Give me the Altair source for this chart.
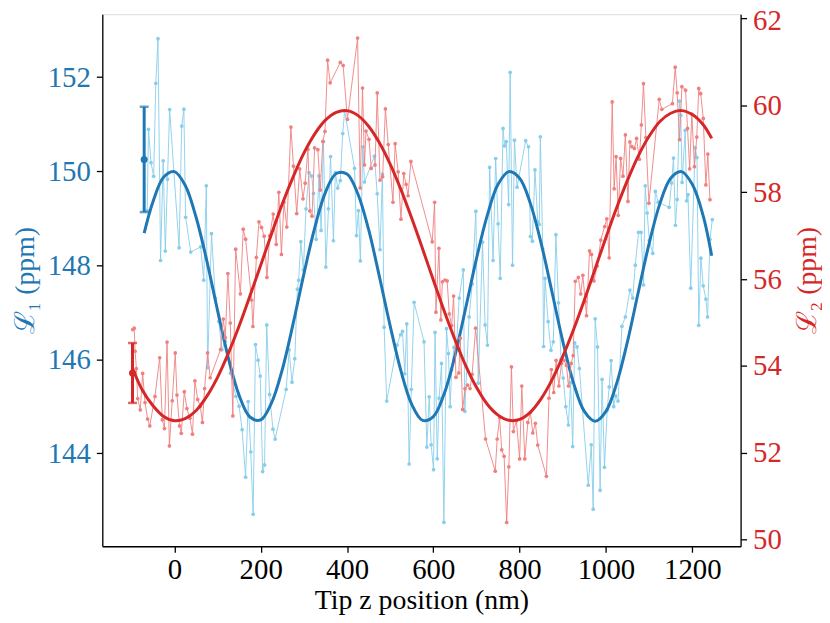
import altair as alt
import pandas as pd

blue_x = [-63, -60, -54, -48, -43, -38, -32, -26, -21, -16, -11, 11, 17, 22, 26, 38, 61, 68, 74, 77,
          86, 95, 103, 110, 118, 130, 142.5, 150, 157, 165, 171, 177, 182.5, 188, 194, 199, 204.5, 209, 214, 220.5,
          228.5, 233.5, 259, 266, 272.5, 279, 285, 288, 293, 299, 305, 312, 318, 322.5, 328.5, 335, 340, 345.5, 351, 357,
          362, 368.5, 373, 378.5, 384.5, 390, 394.5, 417.5, 422, 426.5, 431, 436.5, 440.5, 463.5, 470, 476.5, 482, 486, 492, 516,
          524, 528.5, 534, 538.5, 544, 549, 555.5, 578.5, 585, 590.5, 595, 600.5, 604, 609, 613.5, 619, 624.5, 630.5,
          635, 639, 642.5, 648, 654, 660, 669.5, 673, 683, 690, 698.5, 704, 714, 720, 725.5, 730.5, 738.5, 744.5,
          750, 755, 761.5, 765, 769, 774.5, 778, 783.5, 788, 794, 814, 820.5, 825, 829.5, 835.5, 842, 845.5, 848,
          853.5, 855.5, 858.7, 866, 872.5, 878, 884, 890, 896, 901, 907, 913, 918, 923, 927.5, 933, 938.5, 959,
          966, 970.5, 975, 980.5, 986.5, 991, 996.5, 1003, 1007.5, 1012, 1018, 1022.5, 1028, 1037, 1045, 1055.5, 1062, 1068,
          1075.5, 1081.5, 1087, 1091, 1095.5, 1100.5, 1108.5, 1114.5, 1121, 1146.5, 1152, 1156.5, 1161, 1165, 1170.5, 1173.5,
          1176.5, 1183.5, 1187, 1190, 1196.5, 1206.5, 1211, 1215, 1220, 1225.5, 1231.5, 1235.5, 1241, 1246.5]
blue_y = [149.16, 150.89, 150.18, 149.89, 151.87, 152.82, 148.10, 150.22, 148.30, 149.83, 151.31, 148.37, 150.96, 151.32, 149.02, 148.28, 148.39, 147.68, 149.69, 145.82,
          148.67, 147.30, 146.80, 146.20, 146.38, 145.70, 145.21, 145.00, 144.50, 143.49, 145.10, 144.03, 142.70, 146.31, 145.98, 145.64, 143.61, 143.75, 146.73, 145.25,
          144.51, 144.30, 145.36, 146.20, 145.51, 146.01, 147.49, 147.68, 148.50, 147.90, 149.20, 149.97, 149.90, 149.53, 148.55, 149.90, 148.74, 150.63, 147.96, 149.20,
          150.31, 148.52, 149.97, 149.64, 149.80, 150.80, 151.28, 150.06, 148.63, 149.16, 148.09, 150.52, 149.77, 150.32, 149.52, 148.33, 149.94, 146.68, 145.11, 146.30,
          146.52, 146.59, 145.69, 146.75, 143.77, 145.36, 147.21, 146.37, 144.13, 145.20, 144.18, 143.65, 146.57, 143.88, 145.17, 145.91, 142.53, 146.65,
          146.12, 144.99, 145.77, 146.25, 146.37, 147.30, 147.90, 144.89, 146.90, 147.60, 149.15, 145.49, 148.49, 146.73, 146.30, 150.08, 148.10, 150.27,
          148.88, 147.72, 150.91, 150.54, 150.63, 149.29, 152.10, 148.00, 150.66, 149.66, 150.65, 150.52, 148.61, 148.51, 150.03, 148.92, 148.87, 150.73,
          148.35, 146.27, 147.72, 146.80, 146.19, 146.37, 148.65, 147.20, 146.00, 145.60, 144.99, 144.60, 145.50, 144.14, 146.35, 146.26, 145.80, 143.32,
          144.18, 142.81, 146.86, 146.26, 143.21, 145.57, 143.70, 144.92, 145.41, 145.97, 144.99, 145.22, 145.11, 146.70, 146.90, 147.47, 147.30, 148.00,
          148.70, 148.70, 147.58, 149.69, 149.11, 148.53, 148.25, 149.57, 149.34, 149.23, 149.75, 150.28, 148.85, 149.40, 151.49, 151.19,
          149.76, 150.87, 149.37, 149.50, 147.51, 150.50, 150.29, 146.72, 148.15, 147.56, 147.28, 146.90, 148.55, 148.97]

red_x = [-96.5, -93, -91, -88, -85, -79, -73.5, -68, -62, -57, -45, -34, -28, -23, -17, -11.5, -5, 2, 6, 12,
         16, 23, 29, 36, 42, 47.5, 54, 60, 65, 70, 77, 83, 107, 113.5, 118, 124, 129.5, 135.5, 142, 153,
         159.5, 165, 179, 182, 190, 196, 202, 208, 214.5, 221, 229, 236, 242, 248, 254, 260.5, 270, 276, 283.5, 290.5,
         298, 303, 309.5, 314, 319, 325, 332.5, 338, 344, 349, 355, 361, 384.5, 391, 401, 424.5, 430.5, 436, 440.5, 444,
         451, 456, 465, 470, 476.5, 482.5, 489, 495.5, 506.5, 511.5, 518.5, 525, 531.5, 537, 541.5, 548, 597.5, 603, 606, 613,
         617.5, 621, 627, 632, 637, 642.5, 647, 652.5, 659, 662.5, 668, 673.5, 679.5, 685, 690, 698, 721, 743.5, 748, 753.5,
         758.5, 764, 770, 775, 781, 785.5, 792.5, 800, 805, 812, 819, 825, 830.5, 836.5, 842, 862, 868, 873.5, 879, 884.5,
         891, 897, 903, 908.5, 913, 919.5, 924, 929, 936, 941.5, 946.5, 952, 955, 962, 966.5, 972, 980, 988, 997, 1002,
         1007.5, 1014.5, 1019, 1023.5, 1028.5, 1034, 1039.5, 1045, 1051, 1055.5, 1060, 1066, 1071, 1077.5, 1082, 1087, 1092.5, 1099.5, 1123.5, 1129.5,
         1154, 1160.5, 1165, 1170.5, 1176, 1184.5, 1189, 1194, 1199, 1205, 1210.5, 1215, 1219.5, 1225.5, 1231.5, 1236, 1241]
red_y = [54.84, 54.87, 54.34, 53.94, 53.25, 52.99, 53.83, 53.16, 52.78, 52.62, 53.30, 54.19, 52.76, 52.56, 54.55, 52.16, 53.20, 54.30, 53.33, 52.62,
         52.45, 53.41, 53.02, 52.80, 52.43, 53.66, 53.23, 53.07, 52.70, 53.48, 54.30, 53.73, 54.38, 55.08, 54.65, 56.13, 54.99, 52.85, 56.69, 55.66,
         57.15, 56.92, 55.52, 54.91, 56.50, 57.32, 57.19, 56.99, 56.04, 57.00, 57.50, 56.80, 58.00, 56.57, 57.77, 57.20, 59.50, 58.60, 57.51, 58.54,
         57.85, 58.21, 58.99, 57.57, 57.45, 59.02, 58.98, 58.05, 59.17, 59.40, 61.04, 60.52, 60.99, 60.92, 59.68, 61.55, 58.10, 60.40, 58.63, 59.41,
         59.22, 58.55, 58.63, 60.29, 58.28, 58.36, 59.92, 59.10, 57.77, 59.12, 58.47, 57.38, 58.43, 58.18, 57.92, 58.71, 56.86, 57.77, 55.24, 56.71,
         55.06, 55.94, 55.98, 55.96, 55.20, 54.93, 55.61, 53.74, 53.84, 54.64, 53.00, 53.48, 53.56, 53.48, 53.81, 54.87, 52.32, 51.58, 52.32, 52.81,
         52.07, 51.92, 50.40, 51.68, 53.98, 52.49, 52.74, 51.86, 53.54, 51.86, 52.70, 52.93, 52.46, 52.68, 52.18, 51.46, 53.26, 53.92, 53.39, 54.13,
         53.54, 54.06, 54.13, 54.02, 53.54, 54.06, 54.24, 55.95, 56.04, 55.66, 56.09, 55.48, 55.16, 56.65, 56.57, 55.96, 56.30, 56.90, 57.21, 57.39,
         56.49, 60.08, 58.08, 58.82, 57.47, 58.78, 58.37, 59.32, 57.79, 59.16, 59.05, 59.01, 59.24, 58.76, 59.55, 60.50, 59.26, 57.75, 60.14, 59.91,
         60.04, 60.88, 60.29, 59.21, 60.43, 60.35, 59.47, 58.54, 59.80, 58.59, 59.27, 60.39, 60.27, 59.70, 58.17, 58.88, 57.83]

fit1_x = [-70, -50, -25, 0, 25, 50, 75, 100, 125, 150, 175, 200, 225, 250, 275, 300, 325, 350, 375, 400,
          425, 450, 475, 500, 525, 550, 575, 600, 625, 650, 675, 700, 725, 750, 775, 800, 825, 850, 875, 900,
          925, 950, 975, 1000, 1025, 1050, 1075, 1100, 1125, 1150, 1175, 1200, 1225, 1245]
fit1_y = [148.68, 149.34, 149.87, 149.99, 149.70, 149.03, 148.10, 147.04, 146.03, 145.23, 144.77, 144.71, 145.07, 145.78, 146.75, 147.81, 148.79, 149.55, 149.95, 149.94,
          149.52, 148.76, 147.76, 146.71, 145.75, 145.04, 144.70, 144.78, 145.26, 146.07, 147.09, 148.14, 149.06, 149.72, 149.99, 149.85, 149.31, 148.46, 147.43, 146.38,
          145.49, 144.89, 144.68, 144.89, 145.49, 146.38, 147.43, 148.46, 149.31, 149.85, 149.99, 149.72, 149.06, 148.20]

fit2_x = [-97, -75, -50, -25, 0, 25, 50, 75, 100, 125, 150, 175, 200, 225, 250, 275, 300, 325, 350, 375,
          400, 425, 450, 475, 500, 525, 550, 575, 600, 625, 650, 675, 700, 725, 750, 775, 800, 825, 850, 875,
          900, 925, 950, 975, 1000, 1025, 1050, 1075, 1100, 1125, 1150, 1175, 1200, 1225, 1245]
fit2_y = [53.95, 53.46, 53.09, 52.84, 52.74, 52.79, 52.97, 53.30, 53.74, 54.29, 54.92, 55.61, 56.32, 57.04, 57.73, 58.35, 58.90, 59.34, 59.66, 59.84,
          59.88, 59.77, 59.52, 59.14, 58.65, 58.06, 57.40, 56.70, 55.98, 55.27, 54.61, 54.01, 53.51, 53.12, 52.87, 52.75, 52.77, 52.94, 53.25, 53.68,
          54.22, 54.84, 55.52, 56.24, 56.96, 57.65, 58.28, 58.84, 59.29, 59.63, 59.82, 59.88, 59.79, 59.56, 59.24]

err1_x = [-70]
err1_y = [150.25]
err1_e = [1.12]
err2_x = [-97]
err2_y = [53.84]
err2_e = [0.69]

x_ticks = [0, 200, 400, 600, 800, 1000, 1200]
y1_ticks = [144, 146, 148, 150, 152]
y2_ticks = [50, 52, 54, 56, 58, 60, 62]

# ---- styling ----
BLUE = "#1f77b4"
RED = "#d62728"
LBLUE = "#87ceeb"
LRED = "#f08080"
FONT = "Liberation Serif"
FS = 29   # tick labels
TS = 28   # axis titles

d1 = pd.DataFrame({"x": blue_x, "y": blue_y})
d2 = pd.DataFrame({"x": red_x, "y": red_y})
f1 = pd.DataFrame({"x": fit1_x, "y": fit1_y})
f2 = pd.DataFrame({"x": fit2_x, "y": fit2_y})
e1 = pd.DataFrame({"x": err1_x, "y": err1_y, "lo": [a - b for a, b in zip(err1_y, err1_e)],
                   "hi": [a + b for a, b in zip(err1_y, err1_e)]})
e2 = pd.DataFrame({"x": err2_x, "y": err2_y, "lo": [a - b for a, b in zip(err2_y, err2_e)],
                   "hi": [a + b for a, b in zip(err2_y, err2_e)]})

xscale = alt.Scale(domain=[-167, 1312], nice=False, zero=False)
xaxis = alt.Axis(values=x_ticks, format="d", title="Tip z position (nm)", grid=False, tickSize=6,
                 labelPadding=26, labelBaseline="alphabetic", titleY=63, titleBaseline="alphabetic",
                 labelFont=FONT, labelFontSize=FS, titleFont=FONT, titleFontSize=TS,
                 titleFontWeight="normal", labelColor="black", titleColor="black",
                 domainColor="black", tickColor="black", domainWidth=1.3, tickWidth=1.3)

y1scale = alt.Scale(domain=[142.02, 153.34], nice=False, zero=False)
y1axis = alt.Axis(values=y1_ticks, format="d", title="ℒ₁ (ppm)", orient="left", grid=False, tickSize=6,
                  labelPadding=6, labelFont=FONT, labelFontSize=FS, titleFont=FONT, titleFontSize=TS,
                  titleFontWeight="normal", labelColor=BLUE, titleColor=BLUE, titleX=-77,
                  titleBaseline="middle", titleAngle=270,
                  domainColor="black", tickColor="black", domainWidth=1.3, tickWidth=1.3)

y2scale = alt.Scale(domain=[49.85, 62.1], nice=False, zero=False)
y2axis = alt.Axis(values=y2_ticks, format="d", title="ℒ₂ (ppm)", orient="right", grid=False, tickSize=6,
                  labelPadding=6, labelFont=FONT, labelFontSize=FS, titleFont=FONT, titleFontSize=TS,
                  titleFontWeight="normal", labelColor=RED, titleColor=RED, titleX=67,
                  titleBaseline="middle", titleAngle=270,
                  labelOffset={"condition": {"test": "datum.value == 62", "value": 2}, "value": 0},
                  domainColor="black", tickColor="black", domainWidth=1.3, tickWidth=1.3)


def X():
    return alt.X("x:Q", scale=xscale, axis=xaxis)


def Y(scale, axis, field="y"):
    return alt.Y(f"{field}:Q", scale=scale, axis=axis)


def group(data, fit, err, light, dark, scale, axis):
    line = alt.Chart(data).mark_line(color=light, strokeWidth=1, opacity=0.9).encode(x=X(), y=Y(scale, axis))
    pts = alt.Chart(data).mark_circle(color=light, size=14, opacity=1).encode(x=X(), y=Y(scale, axis))
    fitl = alt.Chart(fit).mark_line(color=dark, strokeWidth=3, interpolate="catmull-rom").encode(
        x=X(), y=Y(scale, axis))
    bar = alt.Chart(err).mark_rule(color=dark, strokeWidth=3).encode(
        x=X(), y=Y(scale, axis, "lo"), y2="hi:Q")
    cap_lo = alt.Chart(err).mark_tick(color=dark, orient="horizontal", size=9, thickness=2.5).encode(
        x=X(), y=Y(scale, axis, "lo"))
    cap_hi = alt.Chart(err).mark_tick(color=dark, orient="horizontal", size=9, thickness=2.5).encode(
        x=X(), y=Y(scale, axis, "hi"))
    dot = alt.Chart(err).mark_circle(color=dark, size=50, opacity=1).encode(x=X(), y=Y(scale, axis))
    return alt.layer(line, pts, fitl, bar, cap_lo, cap_hi, dot)


left = group(d1, f1, e1, LBLUE, BLUE, y1scale, y1axis)
right = group(d2, f2, e2, LRED, RED, y2scale, y2axis)

chart = alt.layer(left, right).resolve_scale(y="independent").properties(
    width=643, height=536,
    autosize=alt.AutoSizeParams(type="none"),
    padding={"left": 95, "top": 4, "right": 82, "bottom": 66.5},
).configure_view(stroke="black", strokeWidth=1.3).configure(background="white")

chart.save("out.html", embed_options={"renderer": "svg", "actions": False})
